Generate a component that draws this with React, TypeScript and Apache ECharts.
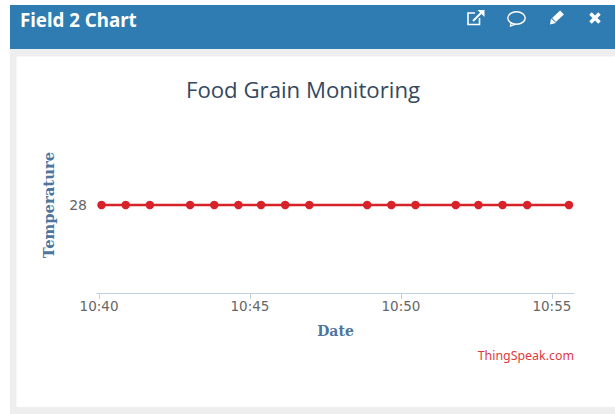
import React, { useEffect, useRef } from "react";
import * as echarts from "echarts";

const chartTitle = "Food Grain Monitoring";
const panelTitle = "Field 2 Chart";
const xAxisTitle = "Date";
const yAxisTitle = "Temperature";
const creditText = "ThingSpeak.com";

const readingTimes = [
  "10:40:05", "10:40:53", "10:41:41", "10:43:01", "10:43:49", "10:44:37",
  "10:45:22", "10:46:10", "10:46:58", "10:48:53", "10:49:41", "10:50:29",
  "10:51:49", "10:52:34", "10:53:22", "10:54:11", "10:55:34",
];
const temperatureValues = [28, 28, 28, 28, 28, 28, 28, 28, 28, 28, 28, 28, 28, 28, 28, 28, 28];
const xTickTimes = ["10:40:00", "10:45:00", "10:50:00", "10:55:00"];
const yTickValues = [28];
const xRange = ["10:39:56", "10:55:44"];

const toMs = (t: string) => {
  const [h, m, s] = t.split(":").map(Number);
  return new Date(2020, 0, 1, h, m, s).getTime();
};
const pad = (n: number) => String(n).padStart(2, "0");

export default function App() {
  const ref = useRef<HTMLDivElement>(null);
  useEffect(() => {
    const chart = echarts.init(ref.current!, null, { renderer: "svg" });
    const white = { stroke: "#ffffff", fill: "none", lineWidth: 2 };
    chart.setOption({
      animation: false,
      backgroundColor: "#ffffff",
      title: {
        text: chartTitle,
        left: 298,
        top: 73,
        textAlign: "center",
        textStyle: { fontFamily: "Open Sans", fontSize: 22.2, fontWeight: "normal", color: "#34495e" },
      },
      grid: { left: 97, right: 41, top: 117, bottom: 121 },
      xAxis: {
        type: "value",
        min: toMs(xRange[0]),
        max: toMs(xRange[1]),
        name: xAxisTitle,
        nameLocation: "middle",
        nameGap: 31,
        nameTextStyle: { fontFamily: "DejaVu Serif", fontWeight: "bold", fontSize: 14, color: "#4d759e" },
        axisLine: { show: true, onZero: false, lineStyle: { color: "#c0d0e0", width: 1 } },
        axisTick: { show: true, length: 6, lineStyle: { color: "#c0d0e0" }, customValues: xTickTimes.map(toMs) },
        splitLine: { show: false },
        axisLabel: {
          customValues: xTickTimes.map(toMs),
          margin: 6,
          fontFamily: "DejaVu Sans",
          fontSize: 13.5,
          color: "#666666",
          hideOverlap: false,
          formatter: (v: number) => {
            const d = new Date(v);
            return pad(d.getHours()) + ":" + pad(d.getMinutes());
          },
        },
      },
      yAxis: {
        type: "value",
        min: 27,
        max: 29,
        interval: 1,
        name: yAxisTitle,
        nameLocation: "middle",
        nameGap: 41,
        nameTextStyle: { fontFamily: "DejaVu Serif", fontWeight: "bold", fontSize: 14.8, color: "#4d759e" },
        axisLine: { show: false },
        axisTick: { show: false },
        splitLine: { show: false },
        axisLabel: {
          customValues: yTickValues,
          margin: 10,
          fontFamily: "DejaVu Sans",
          fontSize: 14,
          color: "#666666",
        },
      },
      series: [
        {
          type: "line",
          data: readingTimes.map((t, i) => [toMs(t), temperatureValues[i]]),
          symbol: "circle",
          symbolSize: 8.5,
          clip: false,
          lineStyle: { color: "#d8222a", width: 2.5 },
          itemStyle: { color: "#d8222a" },
        },
      ],
      graphic: [
        { type: "rect", z: -10, shape: { x: 10, y: 49, width: 605, height: 365 }, style: { fill: "#eeeeee" } },
        { type: "rect", z: -9, shape: { x: 16.5, y: 56.5, width: 598.5, height: 350.5 }, style: { fill: "#ffffff" } },
        { type: "rect", z: -8, shape: { x: 10, y: 5, width: 605, height: 44 }, style: { fill: "#2e7cb2" } },
        {
          type: "text",
          x: 20,
          y: 19,
          style: {
            text: panelTitle,
            fill: "#ffffff",
            font: "bold 18.7px 'Noto Sans'",
            textVerticalAlign: "middle",
          },
        },
        {
          type: "text",
          x: 574,
          y: 355,
          style: {
            text: creditText,
            fill: "#e2383c",
            font: "12.4px 'Noto Sans'",
            textAlign: "right",
            textVerticalAlign: "middle",
          },
        },
        // external-link icon
        { type: "polyline", shape: { points: [[475, 13], [468, 13], [468, 24.5], [479.5, 24.5], [479.5, 18]] }, style: { ...white, lineWidth: 1.6 } },
        { type: "line", shape: { x1: 473, y1: 21, x2: 482, y2: 12 }, style: { ...white, lineWidth: 2 } },
        { type: "polygon", shape: { points: [[477.5, 10], [484.5, 10], [484.5, 17]] }, style: { fill: "#ffffff" } },
        // comment icon
        { type: "ellipse", shape: { cx: 516.5, cy: 18, rx: 8.7, ry: 6.2 }, style: { ...white, lineWidth: 1.4 } },
        { type: "polyline", shape: { points: [[511, 22.5], [510.5, 26], [515, 24.3]] }, style: { ...white, lineWidth: 1.3 } },
        // pencil icon
        { type: "line", shape: { x1: 554, y1: 20, x2: 562, y2: 12.5 }, style: { ...white, lineWidth: 5.5 } },
        { type: "polygon", shape: { points: [[550, 24.5], [551, 18.5], [556, 23]] }, style: { fill: "#ffffff" } },
        // close icon
        { type: "line", shape: { x1: 590.5, y1: 13.5, x2: 599.5, y2: 22.5 }, style: { ...white, lineWidth: 3.6 } },
        { type: "line", shape: { x1: 599.5, y1: 13.5, x2: 590.5, y2: 22.5 }, style: { ...white, lineWidth: 3.6 } },
      ],
    });
    return () => chart.dispose();
  }, []);
  return <div ref={ref} style={{ position: "absolute", left: 0, top: 0, width: 615, height: 414 }} />;
}
